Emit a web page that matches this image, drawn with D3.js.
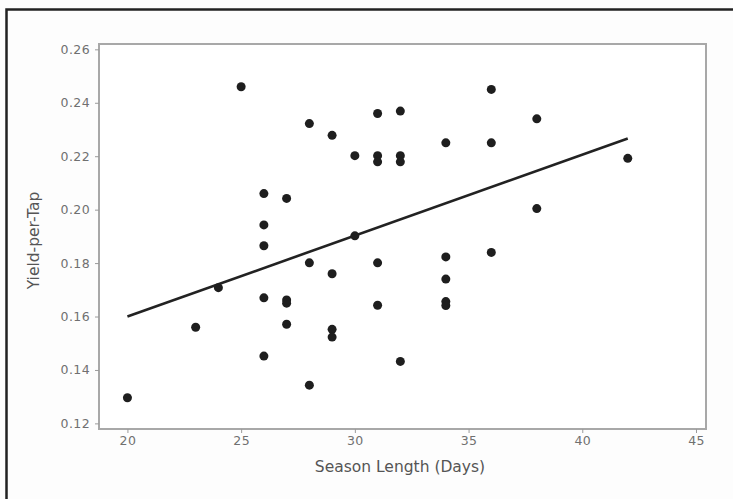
<!DOCTYPE html>
<html>
<head>
<meta charset="utf-8">
<script src="https://cdn.jsdelivr.net/npm/d3@7"></script>
<style>
  html, body { margin: 0; padding: 0; background: #fdfdfd; }
  svg { display: block; }
  .tick text { fill: #707070; font-family: "DejaVu Sans", Verdana, sans-serif; font-size: 12.5px; letter-spacing: 0.4px; }
  .tick line { stroke: #9a9a9a; }
  .axis-title { fill: #555; font-family: "DejaVu Sans", Verdana, sans-serif; font-size: 15.5px; }
</style>
</head>
<body>
<svg width="733" height="499"></svg>
<script>
// Season length (days) for each tree
const seasonDays = [
    20, 23, 24, 25,
    26, 26, 26, 26, 26,
    27, 27, 27, 27,
    28, 28, 28,
    29, 29, 29, 29,
    30, 30,
    31, 31, 31, 31, 31,
    32, 32, 32, 32,
    34, 34, 34, 34, 34,
    36, 36, 36,
    38, 38,
    42
];

// Yield-per-tap, same order
const yieldPerTap = [
    0.1296, 0.156, 0.1708, 0.246,
    0.206, 0.1943, 0.1865, 0.167, 0.1452,
    0.2042, 0.1662, 0.1650, 0.1571,
    0.2322, 0.1801, 0.1343,
    0.2278, 0.176, 0.1552, 0.1523,
    0.2202, 0.1902,
    0.236, 0.2202, 0.2179, 0.1801, 0.1642,
    0.2369, 0.2202, 0.2179, 0.1432,
    0.225, 0.1823, 0.174, 0.1656, 0.1641,
    0.245, 0.225, 0.184,
    0.234, 0.2004,
    0.2192
];

// Fitted line end points
const fitDays = [20, 42];
const fitYield = [0.160, 0.2266];

const xTicks = [20, 25, 30, 35, 40, 45];
const yTicks = [0.12, 0.14, 0.16, 0.18, 0.20, 0.22, 0.24, 0.26];

const svg = d3.select("svg");

// outer frame
svg.append("path")
    .attr("d", "M6.5,499 L6.5,9.5 L733,9.5")
    .attr("fill", "none")
    .attr("stroke", "#222")
    .attr("stroke-width", 2.5);

const plot = {left: 99, right: 706, top: 44, bottom: 429};

const x = d3.scaleLinear()
    .domain([18.75, 45.44])
    .range([plot.left, plot.right]);

const y = d3.scaleLinear()
    .domain([0.1179, 0.262])
    .range([plot.bottom, plot.top]);

// plot box
svg.append("rect")
    .attr("x", plot.left)
    .attr("y", plot.top)
    .attr("width", plot.right - plot.left)
    .attr("height", plot.bottom - plot.top)
    .attr("fill", "#fff")
    .attr("stroke", "#a8a8a8")
    .attr("stroke-width", 2);

svg.append("g")
    .attr("transform", `translate(0,${plot.bottom})`)
    .call(d3.axisBottom(x).tickValues(xTicks).tickFormat(d3.format("d")).tickSize(4).tickPadding(3))
    .call(g => g.select(".domain").remove());

svg.append("g")
    .attr("transform", `translate(${plot.left},0)`)
    .call(d3.axisLeft(y).tickValues(yTicks).tickFormat(d3.format(".2f")).tickSize(4).tickPadding(5))
    .call(g => g.select(".domain").remove());

svg.append("text")
    .attr("class", "axis-title")
    .attr("x", 400)
    .attr("y", 472)
    .attr("text-anchor", "middle")
    .text("Season Length (Days)");

svg.append("text")
    .attr("class", "axis-title")
    .attr("transform", `translate(39,${(plot.top + plot.bottom) / 2 + 4}) rotate(-90)`)
    .attr("text-anchor", "middle")
    .text("Yield-per-Tap");

// fitted line
svg.append("path")
    .datum(d3.zip(fitDays, fitYield))
    .attr("fill", "none")
    .attr("stroke", "#222")
    .attr("stroke-width", 2.6)
    .attr("d", d3.line().x(d => x(d[0])).y(d => y(d[1])));

// points
svg.append("g")
    .selectAll("circle")
    .data(d3.zip(seasonDays, yieldPerTap))
    .join("circle")
    .attr("cx", d => x(d[0]))
    .attr("cy", d => y(d[1]))
    .attr("r", 4.5)
    .attr("fill", "#1e1e1e");
</script>
</body>
</html>
